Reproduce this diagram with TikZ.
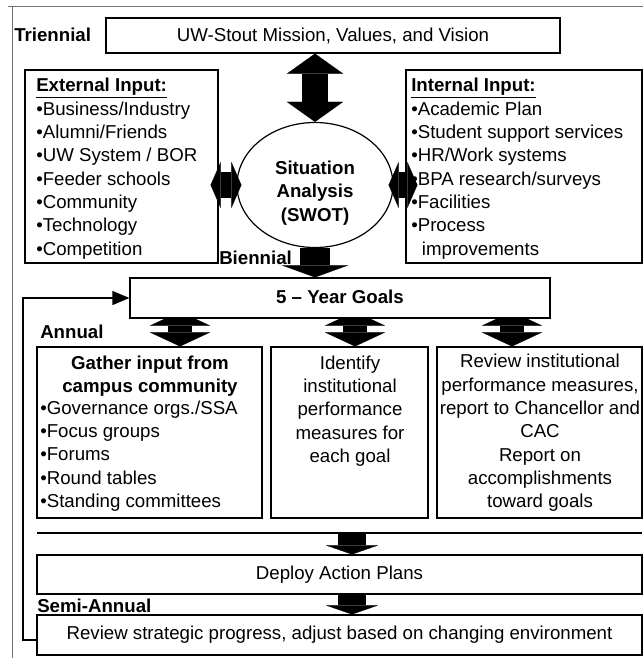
\documentclass[tikz,border=0pt]{standalone}
\usepackage{fontspec}
\setmainfont{Liberation Sans}
\usetikzlibrary{arrows.meta,shapes.geometric,calc,fit,backgrounds}

\begin{document}
\begin{tikzpicture}[x=0.75pt,y=-0.75pt,
  box/.style={draw, line width=0.9pt, fill=white, inner sep=0pt},
  txt/.style={font=\fontsize{14}{17.5}\selectfont, inner sep=0pt},
  hdr/.style={font=\fontsize{14}{17.5}\selectfont\bfseries, inner sep=0pt},
  frameline/.style={draw=black!55, line width=0.6pt},
  link/.style={line width=0.9pt},
  vdbl/.style={line width=19.5pt,
    {Triangle[length=15pt,width=42pt,line width=0.1pt]}-{Triangle[length=15pt,width=42pt,line width=0.1pt]}},
  hdbl/.style={line width=19.5pt,
    {Triangle[length=7.5pt,width=34.5pt,line width=0.1pt]}-{Triangle[length=7.5pt,width=34.5pt,line width=0.1pt]}},
  bigdown/.style={line width=22.5pt, -{Triangle[length=9pt,width=49.5pt,line width=0.1pt]}},
  ibeam/.style={line width=18pt,
    {Triangle[length=10.5pt,width=45pt,line width=0.1pt]}-{Triangle[length=10.5pt,width=45pt,line width=0.1pt]}},
  stepdown/.style={line width=21pt, -{Triangle[length=6.75pt,width=39pt,line width=0.1pt]}}
]
\useasboundingbox (0,0) rectangle (643,658);

% outer frame
\draw[frameline] (8,6) -- (643,6);
\draw[frameline] (12,6) -- (12,658);

% boxes
\node[box, fit={(106,18)(560,53)}] (mission) {};
\node[box, fit={(25,70)(218,263)}] (ext) {};
\node[box, fit={(406,70)(642,263)}] (int) {};
\node[box, draw, ellipse, minimum width=117pt, minimum height=93.75pt] (swot) at (315,185) {};
\node[box, fit={(130,278)(550,318)}] (goals) {};
\node[box, fit={(37,347)(262,518)}] (box1) {};
\node[box, fit={(271,347)(428,518)}] (box2) {};
\node[box, fit={(437,347)(642,518)}] (box3) {};
\node[box, fit={(37,555)(642,594)}] (deploy) {};
\node[box, fit={(37,615)(642,655)}] (review) {};

% arrow columns
\coordinate (ar1) at (180,0);
\coordinate (ar2) at (355,0);
\coordinate (ar3) at (512,0);
\coordinate (ar4) at (352,0);

% goal arrows, partly hidden behind the goals box
\begin{scope}[on background layer]
  \draw[ibeam] ($(goals.south -| ar1)+(0,-7)$) -- (box1.north -| ar1);
  \draw[ibeam] ($(goals.south -| ar2)+(0,-7)$) -- (box2.north -| ar2);
  \draw[ibeam] ($(goals.south -| ar3)+(0,-7)$) -- (box3.north -| ar3);
\end{scope}

% labels
\node[hdr, anchor=west] (tri) at (14,35) {Triennial};
\node[hdr, anchor=west] (bien) at (219,258) {Biennial};
\node[hdr, anchor=west] (annual) at (40,332) {Annual};
\node[hdr, anchor=west] (semi) at (37,606) {Semi-Annual};

% texts
\node[txt] (missiontxt) at (mission.center) {UW-Stout Mission, Values, and Vision};
\node[txt, align=left, anchor=north west] (exttxt) at (36,78)
  {\textbf{\underline{External Input:}}\\
   •Business/Industry\\
   •Alumni/Friends\\
   •UW System / BOR\\
   •Feeder schools\\
   •Community\\
   •Technology\\
   •Competition};
\node[txt, align=left, anchor=north west] (inttxt) at (411,78)
  {\textbf{\underline{Internal Input:}}\\
   •Academic Plan\\
   •Student support services\\
   •HR/Work systems\\
   •BPA research/surveys\\
   •Facilities\\
   •Process\\
   \hspace*{8pt}improvements};
\node[hdr, align=center] (swottxt) at (315,193) {Situation\\Analysis\\(SWOT)};
\node[hdr] (goalstxt) at (340,297) {5 – Year Goals};
\node[hdr, align=center] (b1title) at (150,376) {Gather input from\\campus community};
\node[txt, align=left, anchor=west] (b1list) at (40,456)
  {•Governance orgs./SSA\\
   •Focus groups\\
   •Forums\\
   •Round tables\\
   •Standing committees};
\node[txt, align=center] (b2txt) at (350,411)
  {Identify\\institutional\\performance\\measures for\\each goal};
\node[txt, align=center] (b3txt) at (540,433)
  {Review institutional\\performance measures,\\report to Chancellor and\\CAC\\Report on\\accomplishments\\toward goals};
\node[txt] (deploytxt) at (deploy.center) {Deploy Action Plans};
\node[txt] (reviewtxt) at (review.center) {Review strategic progress, adjust based on changing environment};

% block arrows
\draw[vdbl] (mission.south -| swot) -- (swot.north);
\draw[hdbl] ($(swot.west -| ext.east)+(-8,0)$) -- ($(swot.west)+(5,0)$);
\draw[hdbl] ($(swot.east)+(-5,0)$) -- ($(swot.east -| int.west)+(12,0)$);
\draw[bigdown] (swot.south) -- (goals.north -| swot);

\coordinate (sepL) at (37,533);
\coordinate (sepR) at (642,533);
\draw[link] (sepL) -- (sepR);
\draw[stepdown] (sepL -| ar4) -- (deploy.north -| ar4);
\draw[stepdown] (deploy.south -| ar4) -- (review.north -| ar4);

% feedback loop
\coordinate (loopA) at (23,640);
\draw[link, -{Triangle[length=12.75pt,width=10.5pt]}] (review.west |- loopA) -- (loopA) |- (goals.west);
\end{tikzpicture}
\end{document}
